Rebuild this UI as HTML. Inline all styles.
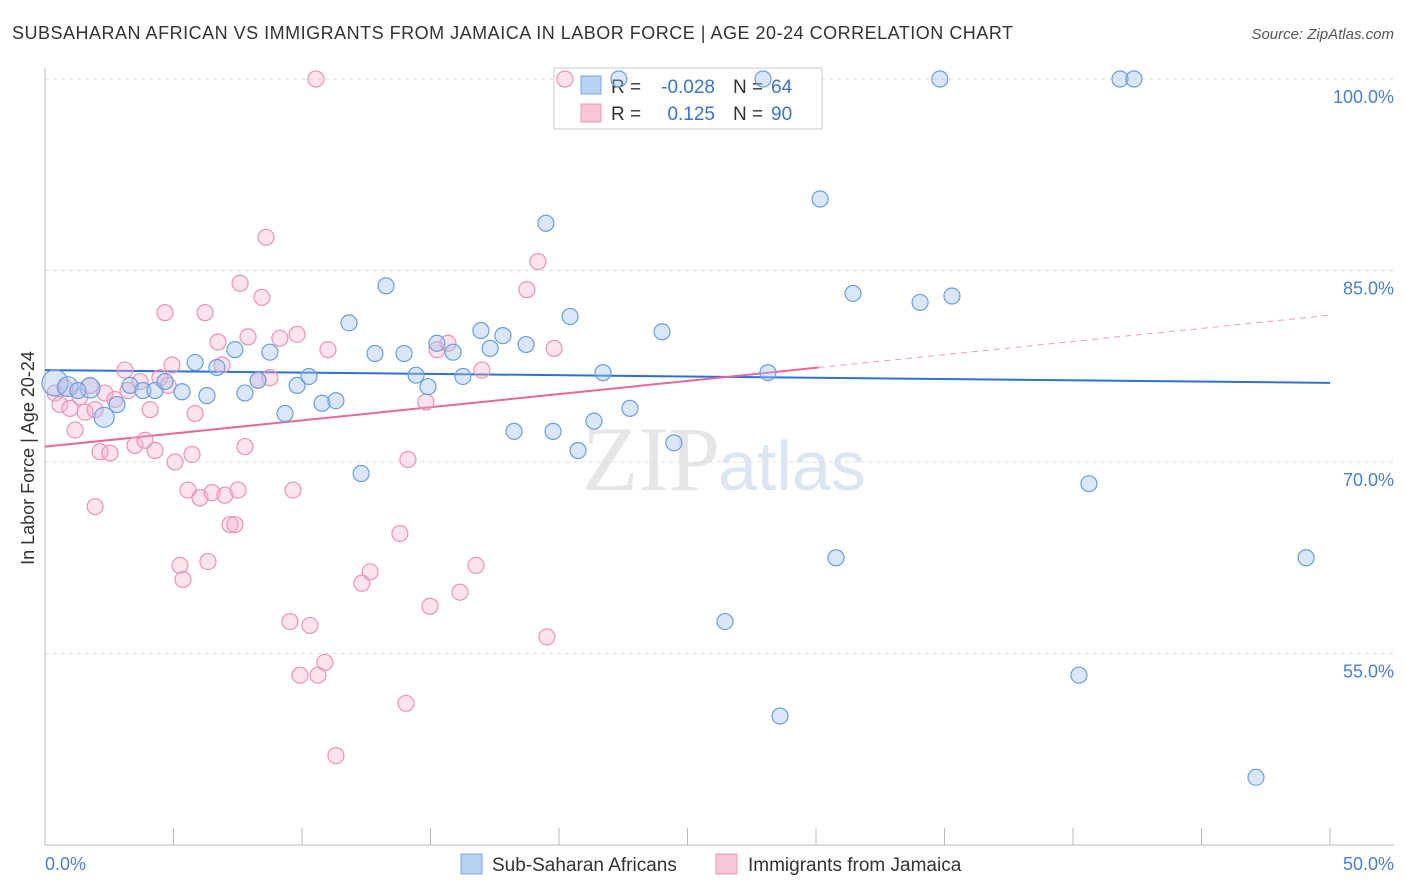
<!DOCTYPE html>
<html><head><meta charset="utf-8"><style>
body{margin:0;background:#fff;font-family:"Liberation Sans",sans-serif;}
svg{display:block}
</style></head><body>
<svg id="c" width="1406" height="892">
<text x="12" y="39" font-size="18" fill="#333" textLength="1001" lengthAdjust="spacing">SUBSAHARAN AFRICAN VS IMMIGRANTS FROM JAMAICA IN LABOR FORCE | AGE 20-24 CORRELATION CHART</text>
<text x="1394" y="39" font-size="15" fill="#555" font-style="italic" text-anchor="end">Source: ZipAtlas.com</text>
<text x="720" y="490" font-size="92" fill="#e6e6e6" text-anchor="end" font-family="Liberation Serif">ZIP</text>
<text x="718" y="490" font-size="70" fill="#dbe6f4">atlas</text>
<g id="grid"></g><g id="axes"></g>
<g>
<rect x="554" y="68" width="268" height="61" fill="#fff" stroke="#ccc"/>
<rect x="581" y="76" width="20" height="18" fill="#b8d2f4" stroke="#7aa6e0"/>
<rect x="581" y="104" width="20" height="18" fill="#f8c6d6" stroke="#e89ab5"/>
<text x="611" y="93" font-size="19" fill="#333">R =</text>
<text x="715" y="93" font-size="19" fill="#3a74d0" text-anchor="end">-0.028</text>
<text x="733" y="93" font-size="19" fill="#333">N =</text>
<text x="771" y="93" font-size="19" fill="#3a74d0">64</text>
<text x="611" y="120" font-size="19" fill="#333">R =</text>
<text x="715" y="120" font-size="19" fill="#3a74d0" text-anchor="end">0.125</text>
<text x="733" y="120" font-size="19" fill="#333">N =</text>
<text x="771" y="120" font-size="19" fill="#3a74d0">90</text>
</g>
<g id="trend"></g><g id="pts"></g>
<text x="34" y="458" font-size="18" fill="#333" text-anchor="middle" transform="rotate(-90 34 458)">In Labor Force | Age 20-24</text>
<text x="45" y="870" font-size="18" fill="#4a7fd4">0.0%</text>
<text x="1394" y="870" font-size="18" fill="#4a7fd4" text-anchor="end">50.0%</text>
<g>
<rect x="461" y="854" width="21" height="20" fill="#b8d2f4" stroke="#7aa6e0"/>
<text x="492" y="871" font-size="19" fill="#333">Sub-Saharan Africans</text>
<rect x="716" y="854" width="21" height="20" fill="#f8c6d6" stroke="#e89ab5"/>
<text x="748" y="871" font-size="19" fill="#333">Immigrants from Jamaica</text>
</g>
</svg>
<script>
const yTicks=[100,85,70,55];
const yTickLabels=["100.0%","85.0%","70.0%","55.0%"];
const blueX=[0.39,0.89,1.75,2.30,1.28,2.80,3.31,3.81,4.28,4.67,5.33,5.84,6.30,6.69,7.39,7.78,8.29,8.75,9.34,9.81,10.27,10.78,11.32,11.83,12.30,12.84,13.27,13.97,14.44,14.90,15.25,15.88,16.26,16.96,17.32,17.82,18.25,18.72,19.49,19.77,20.43,20.74,21.36,21.71,22.33,22.76,24.01,24.47,26.46,27.94,28.13,28.60,30.16,30.78,31.44,34.05,34.82,35.29,40.23,40.62,41.83,42.37,47.12,49.07];
const blueY=[76.2,75.9,75.8,73.5,75.6,74.5,76.0,75.6,75.6,76.3,75.5,77.8,75.2,77.4,78.8,75.4,76.4,78.6,73.8,76.0,76.7,74.6,74.8,80.9,69.1,78.5,83.8,78.5,76.8,75.9,79.3,78.6,76.7,80.3,78.9,79.9,72.4,79.2,88.7,72.4,81.4,70.9,73.2,77.0,100,74.2,80.2,71.5,57.5,100,77.0,50.1,90.6,62.5,83.2,82.5,100,83.0,53.3,68.3,100,100,45.3,62.5];
const pinkX=[0.39,0.58,0.78,0.97,1.17,1.36,1.56,1.75,1.95,2.14,1.95,2.33,2.53,2.72,3.11,3.23,3.50,3.70,3.89,4.09,4.28,4.47,4.67,4.79,4.94,5.06,5.25,5.37,5.56,5.72,5.84,6.03,6.23,6.34,6.50,6.73,6.89,7.00,7.20,7.39,7.51,7.59,7.78,7.90,8.29,8.44,8.60,8.75,9.14,9.53,9.65,9.81,9.92,10.31,10.54,10.62,10.89,11.01,11.32,12.33,12.65,13.81,14.05,14.12,14.82,14.98,15.25,15.68,16.15,16.77,17.00,18.75,19.18,19.53,19.81,20.23];
const pinkY=[75.4,74.5,75.8,74.2,72.5,75.1,73.9,76.0,74.1,70.8,66.5,75.4,70.7,74.9,77.2,75.6,71.3,76.3,71.7,74.1,70.9,76.6,81.7,76.0,77.6,70.0,61.9,60.8,67.8,70.6,73.8,67.2,81.7,62.2,67.6,79.4,77.6,67.4,65.1,65.1,67.8,84.0,71.2,79.8,76.4,82.9,87.6,76.6,79.7,57.5,67.8,80.0,53.3,57.2,100,53.3,54.3,78.8,47.0,60.5,61.4,64.4,51.1,70.2,74.7,58.7,78.8,79.3,59.8,61.9,77.2,83.5,85.7,56.3,78.9,100];
const blueTrend=[77.2,76.2];
const pinkTrend=[71.2,81.5];
const pinkSolidEnd=30.1;
const X=v=>45+v/50*1285, Y=v=>79+(100-v)*191.5/15;
const NS="http://www.w3.org/2000/svg";
function mk(p,t,a){const e=document.createElementNS(NS,t);for(const k in a)e.setAttribute(k,a[k]);document.getElementById(p).appendChild(e);return e;}
yTicks.forEach((t,i)=>{
 const l=mk('grid','line',{x1:45,x2:1394,y1:Y(t),y2:Y(t),stroke:'#ddd','stroke-dasharray':'4,4'});
 
 
 const tx=mk('grid','text',{x:1394,y:Y(t)+24,'font-size':18,fill:'#4a7fd4','text-anchor':'end'});
 tx.textContent=yTickLabels[i];
 
 
});
const ax=mk('axes','line',{x1:45,x2:1394,y1:845,y2:845,stroke:'#bbb'});


const ay=mk('axes','line',{x1:45,x2:45,y1:68,y2:845,stroke:'#bbb'});


for(let i=0;i<=10;i++){const t=mk('axes','line',{x1:X(i*5),x2:X(i*5),y1:828,y2:845,stroke:'#bbb'});
 
 }
const bt=mk('trend','line',{x1:X(0),x2:X(50),y1:Y(blueTrend[0]),y2:Y(blueTrend[1]),stroke:'#2f6fd6','stroke-width':2});


const pm=pinkTrend[0]+(pinkTrend[1]-pinkTrend[0])*pinkSolidEnd/50;
const pt=mk('trend','line',{x1:X(0),x2:X(pinkSolidEnd),y1:Y(pinkTrend[0]),y2:Y(pm),stroke:'#e8689a','stroke-width':2});


const pd=mk('trend','line',{x1:X(pinkSolidEnd),x2:X(50),y1:Y(pm),y2:Y(pinkTrend[1]),stroke:'#e8a0bc','stroke-width':1,'stroke-dasharray':'6,5'});


pinkX.forEach((x,i)=>{const c=mk('pts','circle',{cx:X(x),cy:Y(pinkY[i]),r:8,fill:'rgba(246,176,204,0.35)',stroke:'#ea94b6','stroke-width':1.2});
 
 });
blueX.forEach((x,i)=>{const c=mk('pts','circle',{cx:X(x),cy:Y(blueY[i]),r:i==0?13:(i<4?10:8),fill:'rgba(160,194,240,0.4)',stroke:'#6a9ee2','stroke-width':1.2});
 
 });
</script>
</body></html>
